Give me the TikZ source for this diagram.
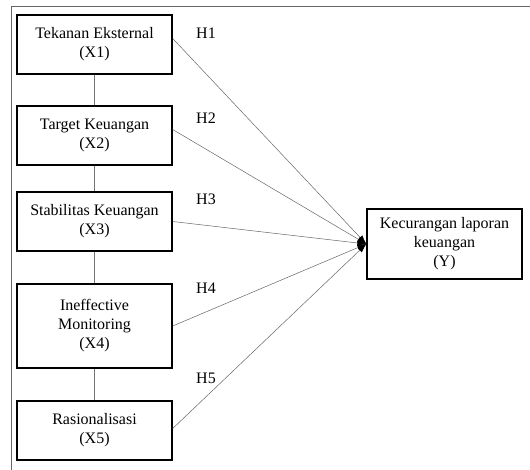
\documentclass[tikz,border=0pt]{standalone}
\usepackage{fontspec}
\setmainfont{Liberation Serif}
\usetikzlibrary{arrows.meta}

\begin{document}
\begin{tikzpicture}[x=1pt,y=-1pt,
    every node/.style = {font=\fontsize{16}{19}\selectfont, align=center},
    var/.style={shape=rectangle, draw, line width=1.4pt, minimum width=155pt, inner sep=0pt},
    hyp/.style={draw=black!60, line width=0.5pt, -{Latex[black,length=9pt,width=6pt]}},
    link/.style={draw=black!55, line width=0.5pt}]
    \useasboundingbox (0,0) rectangle (530,470);
    % frame
    \draw[black!60, line width=1pt] (11,470) -- (11,7) -- (530,7);
    \node[var, minimum height=59pt] (x1) at (94.5, 44.5) {Tekanan Eksternal\\(X1)};
    \node[var, minimum height=59pt] (x2) at (94.5, 135.5) {Target Keuangan\\(X2)};
    \node[var, minimum height=59pt] (x3) at (94.5, 221.5) {Stabilitas Keuangan\\(X3)};
    \node[var, minimum height=84pt] (x4) at (94.5, 326) {Ineffective\\Monitoring\\(X4)};
    \node[var, minimum height=59pt] (x5) at (94.5, 430.5) {Rasionalisasi\\(X5)};
    \node[var, minimum height=70pt] (y) at (444.5, 244) {Kecurangan laporan\\keuangan\\(Y)};
    \path[every edge/.style={link}]
        (x1) edge (x2)
        (x2) edge (x3)
        (x3) edge (x4)
        (x4) edge (x5);
    \path[every edge/.style={hyp}]
        ([yshift=6pt]x1.east) edge (y.west)
        ([yshift=6pt]x2.east) edge (y.west)
        (x3.east) edge (y.west)
        (x4.east) edge (y.west)
        ([yshift=2pt]x5.east) edge (y.west);
    \node (h1) at (206, 33) {H1};
    \node (h2) at (206, 118) {H2};
    \node (h3) at (206, 199) {H3};
    \node (h4) at (206, 288) {H4};
    \node (h5) at (206, 378) {H5};
\end{tikzpicture}
\end{document}
